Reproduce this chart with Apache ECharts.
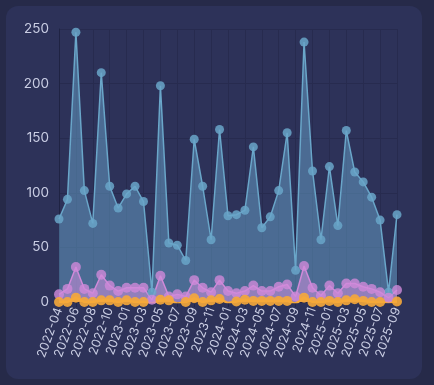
<!DOCTYPE html>
<html><head><meta charset="utf-8">
<script src="https://cdn.jsdelivr.net/npm/echarts@6/dist/echarts.min.js"></script>
<style>
html,body{margin:0;padding:0;background:#262a49;}
#card{position:absolute;left:6px;top:6px;width:416px;height:373px;background:#2d3259;border-radius:12px;}
#c{position:absolute;left:0;top:0;width:434px;height:385px;}
</style></head>
<body><div id="card"></div><div id="c"></div>
<script>
const categories = ["2022-04","2022-05","2022-06","2022-07","2022-08","2022-09","2022-10","2022-12",
"2023-01","2023-02","2023-03","2023-04","2023-05","2023-06","2023-07","2023-08","2023-09","2023-10","2023-11","2023-12",
"2024-01","2024-02","2024-03","2024-04","2024-05","2024-06","2024-07","2024-08","2024-09","2024-10","2024-11","2024-12",
"2025-01","2025-02","2025-03","2025-04","2025-05","2025-06","2025-07","2025-08","2025-09"];
const blueValues = [76,94,247,102,72,210,106,86,99,106,92,9,198,54,52,38,149,106,57,158,
79,80,84,142,68,78,102,155,29,238,120,57,124,70,157,119,110,96,75,9,80];
const purpleValues = [7,12,32,12,8,25,15,10,13,13,13,2,24,5,7,5,20,13,9,20,
10,8,10,15,10,10,14,16,5,33,13,6,15,8,17,17,14,12,9,4,11];
const orangeValues = [0,0,4,0,0,1.5,1.5,0,1.5,0,0,-1.5,2,1.5,-1.5,0,3.4,0,1.5,2.8,
-1,0.5,2,1,1,1,1,1,-1.5,4,0,0,1,0,1.5,2.5,1,0,0,-0.5,0.5];
const yTicks = [0,50,100,150,200,250];

const chart = echarts.init(document.getElementById('c'), null, {renderer:'canvas'});
const txt = '#c9cde3';
function series(name, data, color, fill, lw, msize, mop){
  return {name, type:'line', data, symbol:'circle', symbolSize:msize, showAllSymbol:true,
    lineStyle:{color, width:lw}, itemStyle:{color, opacity:mop},
    areaStyle:{color:fill}, z: 2};
}
chart.setOption({
  backgroundColor:'transparent',
  animation:false,
  grid:{left:59, right:37, top:29, bottom:83},
  xAxis:{type:'category', data:categories, boundaryGap:false,
    axisLine:{show:true, lineStyle:{color:'#23274a'}},
    axisTick:{show:true, interval:1, alignWithLabel:true, lineStyle:{color:'#23274a'}},
    axisLabel:{interval:1, rotate:70, color:txt, fontSize:12.5, fontFamily:'Inter', margin:6},
    splitLine:{show:true, interval:1, lineStyle:{color:'#272b4f', width:1}}},
  yAxis:{type:'value', min:0, max:250, interval:50,
    axisLine:{show:true, lineStyle:{color:'#1f2343'}},
    axisLabel:{color:txt, fontSize:13.5, fontFamily:'Inter', margin:10},
    splitLine:{show:true, lineStyle:{color:'#272b4f', width:1}}},
  series:[
    series('A', blueValues, '#6aa6c9', 'rgba(106,167,208,0.7)', 1.5, 9, 0.85),
    series('B', purpleValues, '#d08ad9', 'rgba(212,145,224,0.75)', 1.5, 10, 0.8),
    series('C', orangeValues, '#f6a83a', 'rgba(246,168,58,0.7)', 2.5, 10, 0.9)
  ]
});
</script></body></html>
